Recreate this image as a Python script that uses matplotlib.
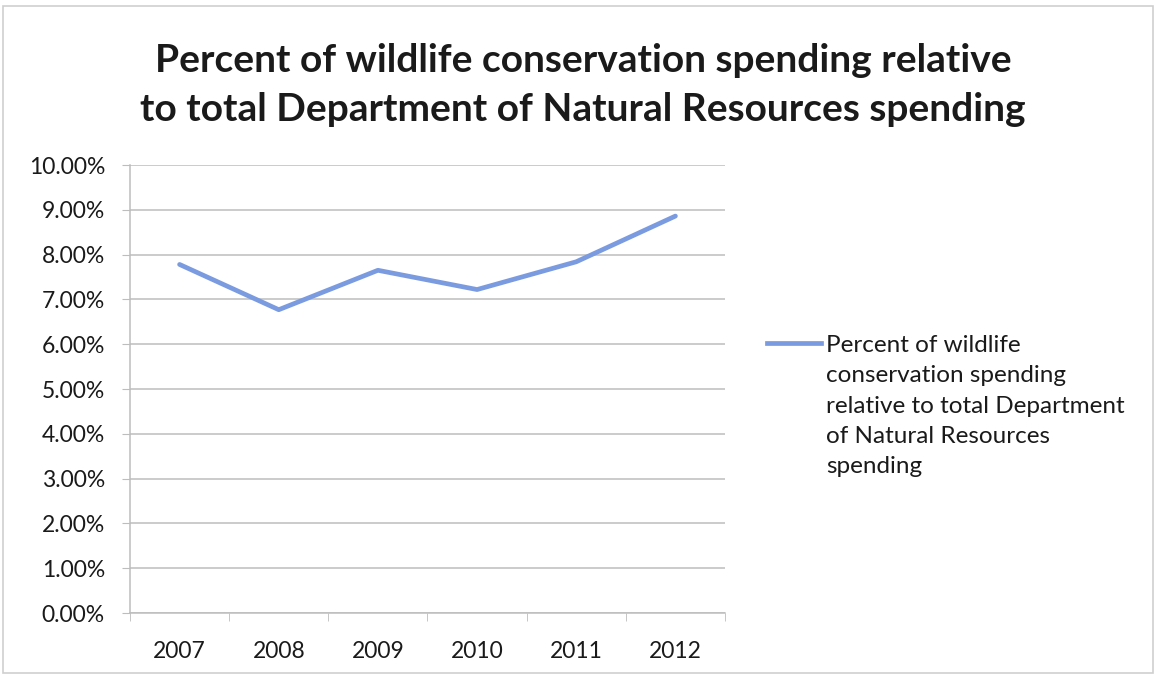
import matplotlib.pyplot as plt
from matplotlib.lines import Line2D
from matplotlib.patches import Rectangle
from matplotlib.ticker import FixedLocator, FuncFormatter

years = ['2007', '2008', '2009', '2010', '2011', '2012']
percent_wildlife = [7.78, 6.77, 7.65, 7.22, 7.84, 8.86]
y_ticks = [0, 1, 2, 3, 4, 5, 6, 7, 8, 9, 10]

title = ('Percent of wildlife conservation spending relative\n'
         'to total Department of Natural Resources spending')
series_label = ('Percent of wildlife\nconservation spending\n'
                'relative to total Department\nof Natural Resources\nspending')

line_color = '#7b9be0'
grid_color = '#bdbdbd'
text_color = '#1a1a1a'

plt.rcParams['font.family'] = ['Lato', 'DejaVu Sans']

W, H = 1156, 677
fig = plt.figure(figsize=(W / 100, H / 100), dpi=100)
fig.patch.set_facecolor('white')

# outer chart frame
fig.add_artist(Rectangle((3 / W, 4 / H), 1150 / W, 667 / H, transform=fig.transFigure,
                         fill=False, edgecolor='#cfcfcf', linewidth=1.2))

ax = fig.add_axes([130 / W, (H - 613) / H, 595 / W, 448 / H])
x = list(range(len(years)))
ax.plot(x, percent_wildlife, color=line_color, linewidth=3.4, solid_capstyle='round')

ax.set_xlim(-0.5, len(years) - 0.5)
ax.set_ylim(0, 10)
ax.set_yticks(y_ticks)
ax.yaxis.set_major_formatter(FuncFormatter(lambda v, p: f'{v:.2f}%'))
ax.set_xticks(x)
ax.set_xticklabels(years)
ax.xaxis.set_minor_locator(FixedLocator([i - 0.5 for i in range(len(years) + 1)]))
ax.tick_params(axis='x', which='major', length=0, pad=20, labelsize=16.5, labelcolor=text_color)
ax.tick_params(axis='x', which='minor', length=6, color=grid_color, direction='out')
ax.tick_params(axis='y', length=6, color=grid_color, pad=12, labelsize=16.5, labelcolor=text_color)

ax.grid(axis='y', color=grid_color, linewidth=1.1)
ax.set_axisbelow(True)
for side in ['top', 'right']:
    ax.spines[side].set_visible(False)
for side in ['left', 'bottom']:
    ax.spines[side].set_color(grid_color)
    ax.spines[side].set_linewidth(1.1)

fig.text(583 / W, 1 - 85 / H, title, ha='center', va='center', fontsize=28,
         fontweight='bold', color=text_color, linespacing=1.5)

# legend key and wrapped label
fig.add_artist(Line2D([767 / W, 821 / W], [1 - 343 / H, 1 - 343 / H], transform=fig.transFigure,
                      color=line_color, linewidth=3.4))
fig.text(826 / W, 1 - 335 / H, series_label, ha='left', va='top', fontsize=17.5,
         color=text_color, linespacing=1.55)

fig.savefig('out.png', dpi=100)
